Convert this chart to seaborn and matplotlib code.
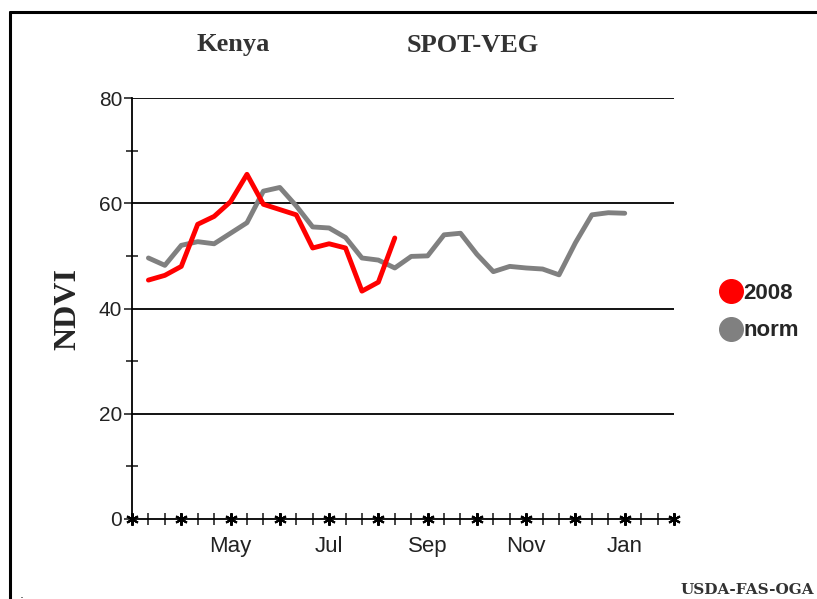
import numpy as np
import pandas as pd
import matplotlib
matplotlib.use("Agg")
import matplotlib.pyplot as plt
from matplotlib.lines import Line2D
import seaborn as sns

# dekad positions (0 = 1 Mar)
dekad_2008 = list(range(1, 17))
ndvi_2008 = [45.4, 46.3, 48.0, 56.0, 57.5, 60.3, 65.5, 59.8, 58.8, 57.8,
             51.5, 52.3, 51.5, 43.3, 45.0, 53.4]

dekad_norm = list(range(1, 31))
ndvi_norm = [49.6, 48.2, 52.0, 52.7, 52.3, 54.3, 56.3, 62.3, 63.0, 59.5,
             55.5, 55.3, 53.5, 49.6, 49.2, 47.7, 49.9, 50.0, 54.0, 54.3,
             50.3, 47.0, 48.0, 47.7, 47.5, 46.4, 52.5, 57.8, 58.2, 58.1]

month_ticks = [6, 12, 18, 24, 30]
month_labels = ["May", "Jul", "Sep", "Nov", "Jan"]
series_colors = {"2008": "#ff0000", "norm": "#808080"}

df = pd.concat([
    pd.DataFrame({"dekad": dekad_2008, "NDVI": ndvi_2008, "series": "2008"}),
    pd.DataFrame({"dekad": dekad_norm, "NDVI": ndvi_norm, "series": "norm"}),
])

sns.set_style("white")
fig = plt.figure(figsize=(8.17, 5.99), dpi=100)
ax = fig.add_axes([132 / 817, 1 - 519 / 599, 542 / 817, 421 / 599])

sns.lineplot(data=df, x="dekad", y="NDVI", hue="series", palette=series_colors,
             hue_order=["norm", "2008"], linewidth=3.5, ax=ax, legend=False)

ax.set_xlim(0, 33)
ax.set_ylim(0, 80)

# horizontal grid
for v in [20, 40, 60, 80]:
    ax.axhline(v, color="black", linewidth=1.3, zorder=1)

for s in ["top", "right"]:
    ax.spines[s].set_visible(False)
for s in ["left", "bottom"]:
    ax.spines[s].set_color("black")
    ax.spines[s].set_linewidth(1.3)

ax.set_yticks([0, 20, 40, 60, 80])
ax.set_yticks([10, 30, 50, 70], minor=True)
ax.tick_params(axis="y", which="major", direction="out", length=6, width=1.2,
               labelsize=15, pad=1, left=True, labelcolor="#222222")
ax.tick_params(axis="y", which="minor", direction="inout", length=8, width=1.2, left=True)

ax.set_xticks(month_ticks)
ax.set_xticklabels(month_labels)
ax.set_xticks(range(0, 34), minor=True)
ax.tick_params(axis="x", which="major", length=0, labelsize=16, pad=12,
               labelcolor="#222222")
ax.tick_params(axis="x", which="minor", direction="inout", length=9, width=1.2, bottom=True)
for lbl in ax.get_xticklabels() + ax.get_yticklabels():
    lbl.set_fontfamily("Liberation Sans")

# asterisks at month starts
ax.plot(range(0, 34, 3), [0] * 12, linestyle="none", marker=(6, 2, 0),
        markersize=9, markeredgewidth=1.5, color="black", clip_on=False, zorder=5)

ax.set_xlabel("")
ax.set_ylabel("NDVI", fontfamily="Liberation Serif", fontweight="bold",
              fontsize=23, labelpad=12)

fig.text(233 / 817, 1 - 45 / 599, "Kenya", fontfamily="Liberation Serif",
         fontweight="bold", fontsize=19, ha="center", va="center", color="#333333")
fig.text(473 / 817, 1 - 45 / 599, "SPOT-VEG", fontfamily="Liberation Serif",
         fontweight="bold", fontsize=19, ha="center", va="center", color="#333333")

handles = [Line2D([], [], linestyle="none", marker="o", markersize=17,
                  color=series_colors[k], label=k) for k in ["2008", "norm"]]
fig.legend(handles=handles, loc="center left", bbox_to_anchor=(700 / 817, 1 - 312 / 599),
           frameon=False, handletextpad=-0.45, labelspacing=0.75, borderaxespad=0,
           prop={"family": "Liberation Sans", "weight": "bold", "size": 16})

fig.text(814 / 817, 1 - 590 / 599, "USDA-FAS-OGA", fontfamily="DejaVu Serif",
         fontweight="bold", fontsize=11, ha="right", va="center", color="#333333")
fig.text(22 / 817, 1 - 594 / 599, ".", fontsize=9, ha="center", va="center")

# page frame
fig.add_artist(Line2D([10 / 817, 10 / 817], [0, 1 - 12 / 599], color="black",
                      linewidth=2.2, transform=fig.transFigure))
fig.add_artist(Line2D([10 / 817, 1], [1 - 12 / 599, 1 - 12 / 599], color="black",
                      linewidth=2.2, transform=fig.transFigure))

fig.savefig("out.png", dpi=100)
